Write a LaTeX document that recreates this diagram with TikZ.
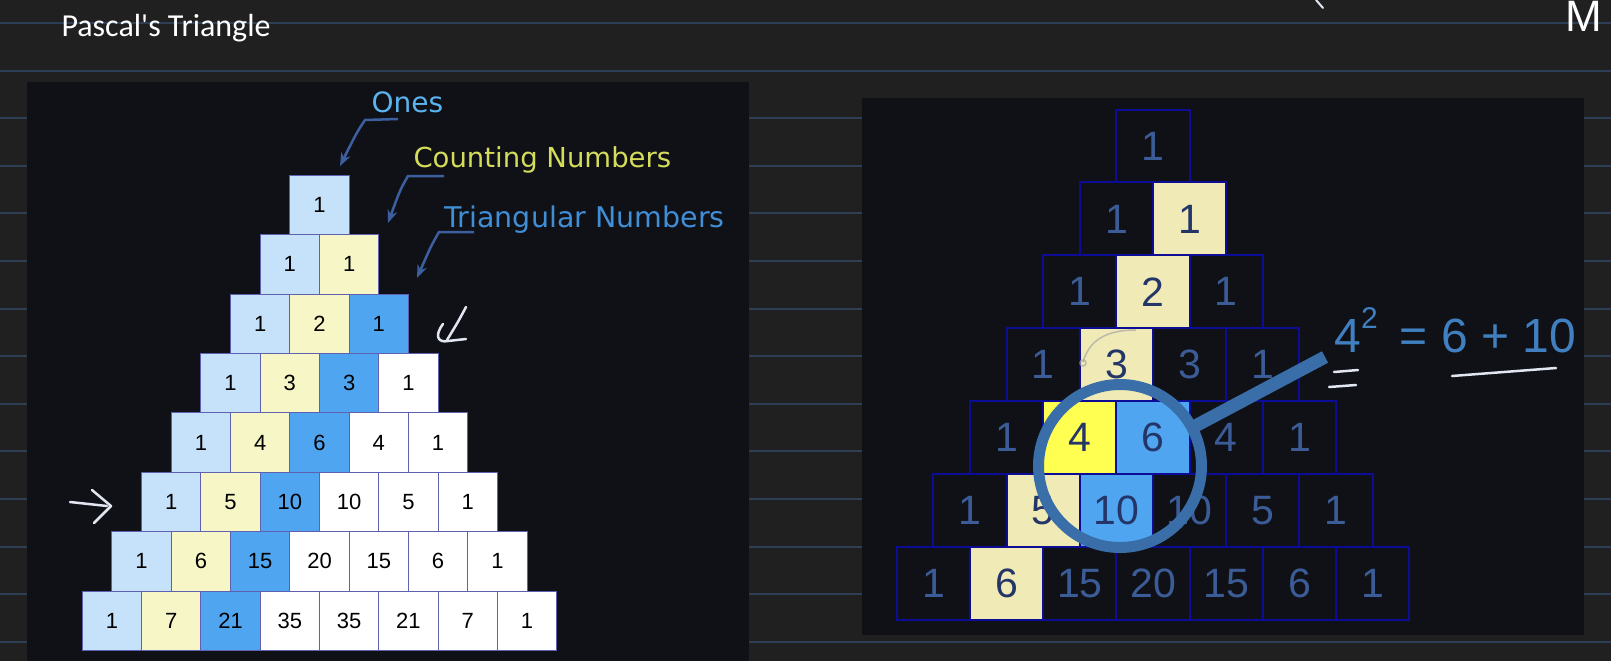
\documentclass[tikz,border=0pt]{standalone}
\usepackage{fontspec}
\setmainfont{Liberation Sans}
\newfontfamily\titlefont{Carlito}
\newfontfamily\handfont{DejaVu Sans}
\usetikzlibrary{arrows.meta}

\definecolor{bgdark}{RGB}{32,32,32}
\definecolor{ruleline}{RGB}{46,62,84}
\definecolor{panel}{RGB}{15,17,23}
\definecolor{onesblue}{RGB}{197,226,250}
\definecolor{countyellow}{RGB}{246,246,198}
\definecolor{triblue}{RGB}{80,165,240}
\definecolor{cellline}{RGB}{96,96,176}
\definecolor{navyline}{RGB}{12,12,150}
\definecolor{numblue}{RGB}{60,92,152}
\definecolor{numnavy}{RGB}{36,54,104}
\definecolor{paleyellow}{RGB}{240,234,182}
\definecolor{hotyellow}{RGB}{255,255,82}
\definecolor{onestext}{RGB}{90,180,240}
\definecolor{counttext}{RGB}{212,220,90}
\definecolor{tritext}{RGB}{64,142,214}
\definecolor{pointerblue}{RGB}{60,95,160}
\definecolor{lensblue}{RGB}{58,110,168}
\definecolor{eqblue}{RGB}{64,128,192}
\definecolor{chalkwhite}{RGB}{225,230,240}

\tikzset{
	lcell/.style={draw=cellline, line width=1pt, minimum width=59.3pt, minimum height=59.3pt, inner sep=0pt, text=black, font=\fontsize{22}{26}\selectfont},
	lcell0/.style={lcell, fill=onesblue},
	lcell1/.style={lcell, fill=countyellow},
	lcell2/.style={lcell, fill=triblue},
	lcell3/.style={lcell, fill=white},
	rcell/.style={draw=navyline, line width=2pt, minimum width=73.2pt, minimum height=72.9pt, inner sep=0pt, font=\fontsize{41}{48}\selectfont},
	rcell-n/.style={rcell, fill=panel, text=numblue},
	rcell-y/.style={rcell, fill=paleyellow, text=numnavy},
	rcell-h/.style={rcell, fill=hotyellow, text=numnavy},
	rcell-b/.style={rcell, fill=triblue, text=numnavy},
	hint/.style={anchor=base west, font=\handfont\fontsize{#1}{#1}\selectfont},
	pointer/.style={draw=pointerblue, line width=2.5pt, -{Stealth[length=13pt, width=10pt]}},
	chalk/.style={draw=chalkwhite, line width=2.5pt, line cap=round, line join=round}
}

\begin{document}
\begin{tikzpicture}[x=1pt, y=-1pt]
		% page
			\useasboundingbox (0,0) rectangle (1611,661);
			\clip (0,0) rectangle (1611,661);
			\fill[bgdark] (0,0) rectangle (1611,661);
			\foreach \i in {0,...,13}
				\draw[ruleline, line width=2pt] (0,23+47.6*\i) -- (1611,23+47.6*\i);
			\fill[panel] (26.5,82) rectangle (749,661);
			\fill[panel] (862,98) rectangle (1584,635);
			\node[anchor=base west, text=white, font=\titlefont\fontsize{32}{38}\selectfont] (title) at (58,37) {Pascal's Triangle};
			\node[anchor=base west, text=white, font=\fontsize{44}{50}\selectfont] (corner) at (1562,32) {M};
			\draw[chalk, line width=2pt] (1316,0) -- (1323,8);
		% left triangle
		\foreach \row/\vals in {0/{1}, 1/{1,1}, 2/{1,2,1}, 3/{1,3,3,1}, 4/{1,4,6,4,1}, 5/{1,5,10,10,5,1}, 6/{1,6,15,20,15,6,1}, 7/{1,7,21,35,35,21,7,1}}
			\foreach \v [count=\c from 0] in \vals {
				\pgfmathtruncatemacro\k{min(\c,3)}
				\node[lcell\k] (l-\row-\c) at ({319.5+(\c-\row/2)*59.3}, {205+\row*59.4}) {\v};
			}
		% labels and their arrows
		\node[hint=28, text=onestext] (ones) at (368,112) {Ones};
		\node[hint=27.5, text=counttext] (counting) at (410,167) {Counting Numbers};
		\node[hint=28.5, text=tritext] (triangular) at (441,227) {Triangular Numbers};
		\coordinate (ones-tail) at (398,119);
		\coordinate (ones-tip) at (340,166);
		\coordinate (counting-tail) at (444,176);
		\coordinate (counting-tip) at (388,223);
		\coordinate (triangular-tail) at (474,232);
		\coordinate (triangular-tip) at (417,278);
		\draw[pointer] (ones-tail) -- ++(-33,1) .. controls +(-8,12) .. (ones-tip);
		\draw[pointer] (counting-tail) -- ++(-36,0) .. controls +(-8,14) .. (counting-tip);
		\draw[pointer] (triangular-tail) -- ++(-35,0) .. controls +(-8,14) .. (triangular-tip);
		% hand marks
		\draw[chalk] (466,307) .. controls (458,322) .. (447,340);
		\draw[chalk] (443,324) .. controls (434,336) and (438,343) .. (448,341) -- (466,339);
		\draw[chalk] (70,502) -- (107,506);
		\draw[chalk] (92,490) -- (111,506) -- (94,523);
		% right triangle
		\foreach \row/\vals in {0/{1/n}, 1/{1/n,1/y}, 2/{1/n,2/y,1/n}, 3/{1/n,3/y,3/n,1/n}, 4/{1/n,4/h,6/b,4/n,1/n}, 5/{1/n,5/y,10/b,10/n,5/n,1/n}, 6/{1/n,6/y,15/n,20/n,15/n,6/n,1/n}}
			\foreach \v/\s [count=\c from 0] in \vals
				\node[rcell-\s] (r-\row-\c) at ({1153+(\c-\row/2)*73.2}, {146+\row*72.9}) {\v};
		\draw[gray!70, line width=1.5pt, opacity=0.7] (1136,330) .. controls (1100,330) and (1088,345) .. (1083,362);
		\draw[gray!70, line width=1.5pt, opacity=0.7] (1083,363) circle[radius=3];
		% magnifier
		\node[circle, draw=lensblue, line width=11pt, minimum size=163pt, inner sep=0pt] (lens) at (1120,466) {};
		\coordinate (grip) at (1325,357);
		\draw[lensblue, line width=13pt, shorten <=-5pt] (lens.28) -- (grip);
		% the equation
		\node[anchor=base west, text=eqblue, font=\fontsize{48}{56}\selectfont] (square) at (1331,352) {4\raisebox{24pt}{\fontsize{30}{34}\selectfont 2}\hspace{22pt}= 6 + 10};
		\draw[chalk] (1334,372) -- (1358,370);
		\draw[chalk] (1329,387) -- (1356,385);
		\draw[chalk] (1452,376) -- (1556,368);
	\end{tikzpicture}
\end{document}
